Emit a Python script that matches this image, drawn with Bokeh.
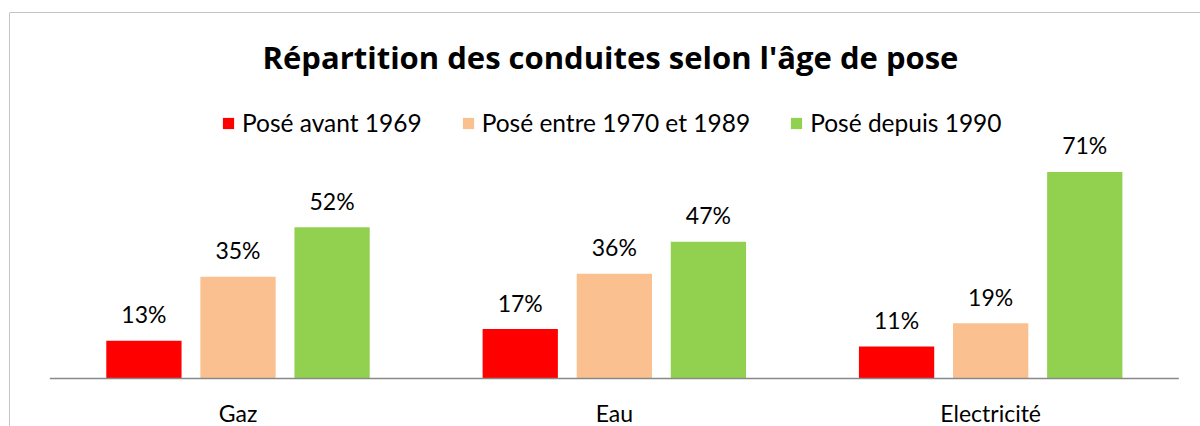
from bokeh.plotting import figure
from bokeh.models import Range1d, Span, Label, Legend, LegendItem, ColumnDataSource
from bokeh.core.properties import value
from bokeh.transform import dodge
from bokeh.embed import file_html
from bokeh.resources import INLINE

# ---------------- data ----------------
categories = ["Gaz", "Eau", "Electricité"]
series_names = ["Posé avant 1969", "Posé entre 1970 et 1989", "Posé depuis 1990"]
avant_1969 = [13, 17, 11]
entre_1970_1989 = [35, 36, 19]
depuis_1990 = [52, 47, 71]
title_text = "Répartition des conduites selon l'âge de pose"

series_values = [avant_1969, entre_1970_1989, depuis_1990]
colors = ["#FF0000", "#FAC090", "#92D050"]
FONT = "Lato"
TITLE_FONT = "Open Sans"
GRAY = "#898989"

# ---------------- layout helpers (canvas pixel -> data) ----------------
CAT0_PX = 237.5      # x of first category centre
CAT_PX = 376.33      # px per category
BASE_PX = 378.0      # y of value 0
PCT_PX = 2.91        # px per percent
BL = 0.37            # empirical baseline shift (fraction of font size)


def xd(px):
    return (px - CAT0_PX) / CAT_PX


def yd(py):
    return (BASE_PX - py) / PCT_PX


W, H = 1200, 426
p = figure(width=W, height=H, output_backend="svg", toolbar_location=None,
           x_axis_type=None, y_axis_type=None,
           x_range=Range1d(xd(9), xd(W)), y_range=Range1d(yd(H), yd(12)),
           min_border_left=9, min_border_top=12, min_border_right=0, min_border_bottom=0)
p.outline_line_color = None
p.background_fill_color = "white"
p.border_fill_color = "white"

LBL = 23
idx = list(range(len(categories)))
offsets = [-0.25, 0.0, 0.25]
renderers = []
for name, vals, col, off in zip(series_names, series_values, colors, offsets):
    src = ColumnDataSource(dict(idx=idx, v=vals, lab=[f"{v}%" for v in vals]))
    r = p.vbar(x=dodge("idx", off, range=p.x_range), top="v", width=0.2, bottom=0,
               source=src, fill_color=col, line_color=None)
    renderers.append(r)
    p.text(x=dodge("idx", off, range=p.x_range), y="v", text="lab", source=src,
           text_align="center", text_baseline="alphabetic", y_offset=-18 - BL * LBL,
           text_font=value(FONT), text_font_size=f"{LBL}px", text_color="#000000")

# baseline (category axis line)
p.segment(x0=[-0.5], x1=[len(categories) - 0.5], y0=[0], y1=[0],
          line_color=GRAY, line_width=1.5)

# category labels
csrc = ColumnDataSource(dict(idx=idx, cat=categories))
p.text(x="idx", y=yd(421 - BL * LBL), text="cat", source=csrc, text_align="center",
       text_baseline="alphabetic", text_font=value(FONT), text_font_size=f"{LBL}px",
       text_color="#000000")

# title
TS = 31
p.add_layout(Label(x=xd(610), y=yd(68 - BL * TS), text=title_text, text_align="center",
                   text_baseline="alphabetic", text_font=TITLE_FONT, text_font_style="bold",
                   text_font_size=f"{TS}px", text_color="#000000"))

# legend
legend = Legend(items=[LegendItem(label=n, renderers=[r]) for n, r in zip(series_names, renderers)],
                orientation="horizontal", location=(212, 289),
                glyph_width=14, glyph_height=14, label_height=20, label_standoff=7,
                spacing=39, padding=0, margin=0, border_line_color=None,
                background_fill_alpha=0, label_text_font=FONT,
                label_text_font_size="24.5px", label_text_color="#000000")
p.add_layout(legend)

# chart border (left & top visible)
p.add_layout(Span(location=xd(9), dimension="height", line_color=GRAY, line_width=1))
p.add_layout(Span(location=yd(12), dimension="width", line_color=GRAY, line_width=1))

open("out.html", "w").write(file_html(p, INLINE))
